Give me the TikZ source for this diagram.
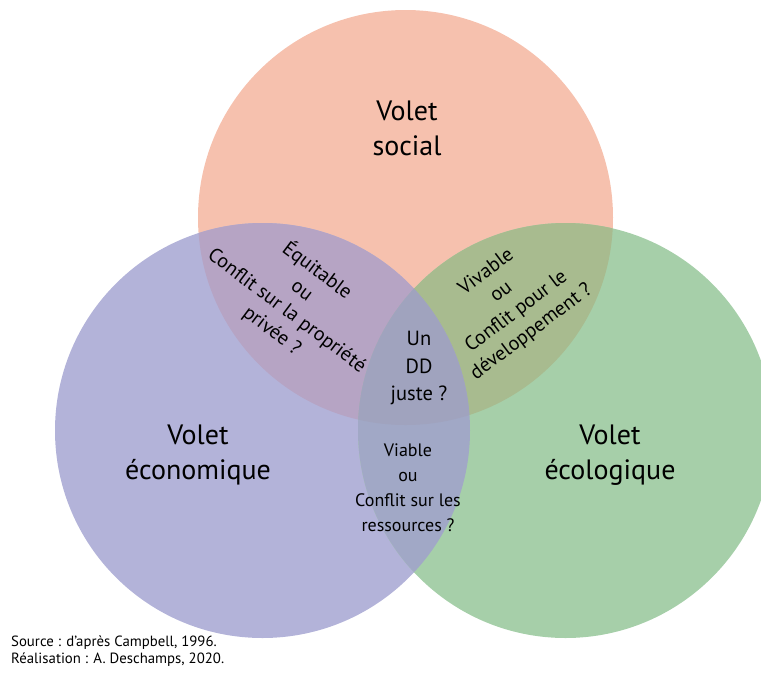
\documentclass[tikz,border=0pt]{standalone}
\usepackage{fontspec}
\setmainfont{PT Sans}
\definecolor{socialc}{HTML}{F6C1AE}
\definecolor{econc}{HTML}{B3B3D9}
\definecolor{ecoc}{HTML}{A6CFA9}
\definecolor{secC}{HTML}{B6A4C4}
\definecolor{sgC}{HTML}{A8BB8F}
\definecolor{egC}{HTML}{A1A8C6}
\definecolor{allC}{HTML}{A0A3BE}
\begin{document}
\begin{tikzpicture}[x=1pt,y=-1pt,
  bigtxt/.style={align=center, inner sep=0pt, font=\fontsize{28}{35}\selectfont},
  smalltxt/.style={align=center, inner sep=0pt, font=\fontsize{18}{25}\selectfont},
  rottxt/.style={align=center, inner sep=0pt, font=\fontsize{20}{25}\selectfont},
  centertxt/.style={align=center, inner sep=0pt, font=\fontsize{20.5}{27.5}\selectfont},
  srctxt/.style={align=left, inner sep=0pt, anchor=north west, font=\fontsize{14.8}{16.5}\selectfont}]
\useasboundingbox (0,0) rectangle (761,673);
\coordinate (S) at (405.5,217.5);
\coordinate (E) at (262.5,430.5);
\coordinate (G) at (565.5,430.5);
\def\R{207.5pt}
% circles
\fill[socialc] (S) circle[radius=\R];
\fill[econc] (E) circle[radius=\R];
\fill[ecoc] (G) circle[radius=\R];
% pairwise overlaps
\begin{scope}
  \clip (S) circle[radius=\R];
  \fill[secC] (E) circle[radius=\R];
\end{scope}
\begin{scope}
  \clip (S) circle[radius=\R];
  \fill[sgC] (G) circle[radius=\R];
\end{scope}
\begin{scope}
  \clip (E) circle[radius=\R];
  \fill[egC] (G) circle[radius=\R];
\end{scope}
\begin{scope}
  \clip (S) circle[radius=\R];
  \clip (E) circle[radius=\R];
  \fill[allC] (G) circle[radius=\R];
\end{scope}
% labels
\node[bigtxt] (tsocial) at (407,128) {Volet\\social};
\node[bigtxt] (teco) at (198,455) {Volet\\économique};
\node[bigtxt] (tecol) at (610,455) {Volet\\écologique};
\node[centertxt] (tcenter) at (419,368) {Un\\DD\\juste ?};
\node[smalltxt] (tviable) at (408,488) {Viable\\ou\\Conflit sur les\\ressources ?};
\node[rottxt, rotate=-37] (tequit) at (295,300) {Équitable\\ou\\Conflit sur la propriété\\privée ?};
\node[rottxt, rotate=37] (tvivable) at (509,302) {Vivable\\ou\\Conflit pour le\\développement ?};
\node[srctxt] (tsource) at (11,636) {Source : d’après Campbell, 1996.\\Réalisation : A. Deschamps, 2020.};
\end{tikzpicture}
\end{document}
